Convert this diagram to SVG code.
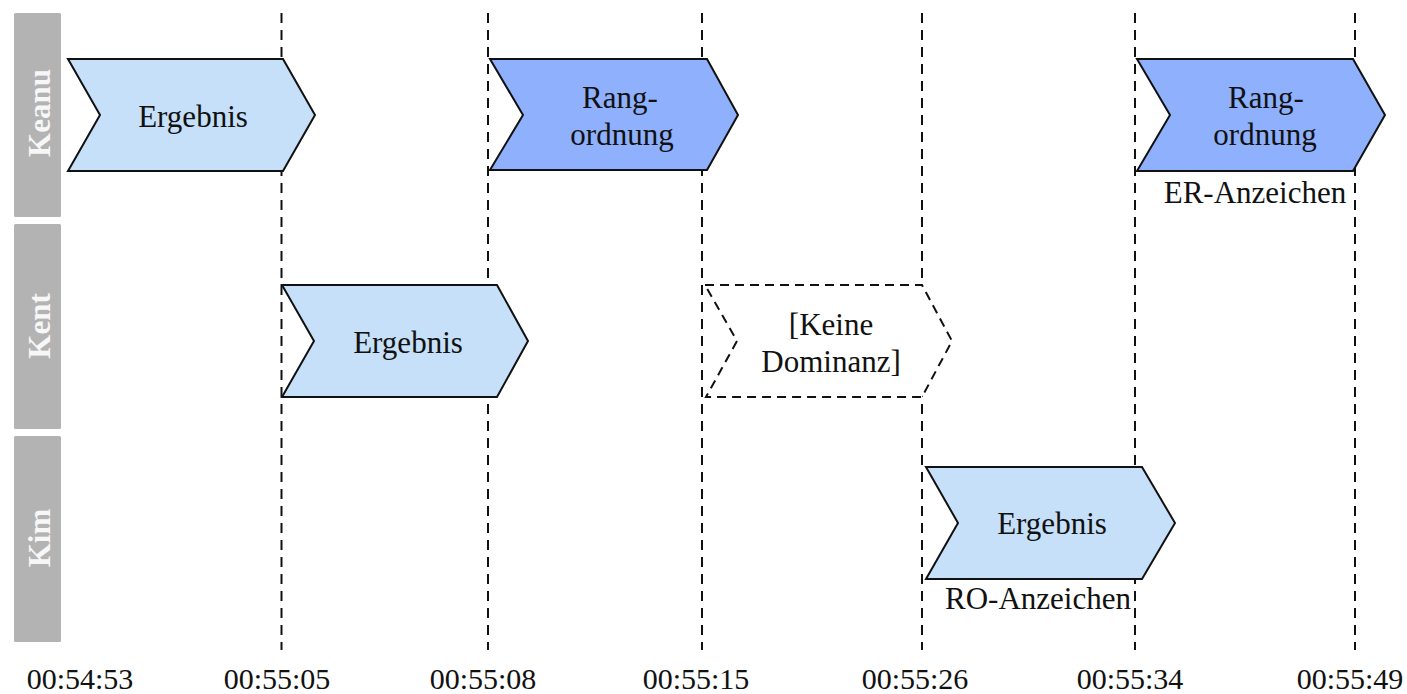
<svg xmlns="http://www.w3.org/2000/svg" width="1407" height="694" viewBox="0 0 1407 694">
  <style>
    .lane { fill: #b3b3b3; }
    .lane-label { font-family: "Liberation Serif", "Times New Roman", serif; font-weight: bold; font-size: 31px; fill: #f7f7f7; text-anchor: middle; }
    .tick { stroke: #111; stroke-width: 2; stroke-dasharray: 10 7; fill: none; }
    .step { stroke: #111; stroke-width: 2; stroke-linejoin: miter; }
    .light { fill: #c6e0fa; }
    .dark { fill: #8fb0fd; }
    .none { fill: #ffffff; stroke-dasharray: 9 6; }
    .lbl { font-family: "Liberation Serif", "Times New Roman", serif; font-size: 31px; fill: #111; text-anchor: middle; }
    .time { font-family: "Liberation Serif", "Times New Roman", serif; font-size: 30px; fill: #111; text-anchor: middle; }
  </style>

  <rect width="1407" height="694" fill="#ffffff"/>

  <!-- swimlane headers -->
  <g id="lane-keanu">
    <rect class="lane" x="14" y="13" width="47" height="204" rx="1.5"/>
    <text class="lane-label" transform="translate(50,113) rotate(-90)">Keanu</text>
  </g>
  <g id="lane-kent">
    <rect class="lane" x="14" y="224" width="47" height="205" rx="1.5"/>
    <text class="lane-label" transform="translate(50,326) rotate(-90)">Kent</text>
  </g>
  <g id="lane-kim">
    <rect class="lane" x="14" y="436" width="47" height="206" rx="1.5"/>
    <text class="lane-label" transform="translate(50,538) rotate(-90)">Kim</text>
  </g>

  <!-- time markers -->
  <g id="connectors">
    <line class="tick" x1="281.5" y1="13" x2="281.5" y2="650"/>
    <line class="tick" x1="488" y1="13" x2="488" y2="650"/>
    <line class="tick" x1="702" y1="13" x2="702" y2="650"/>
    <line class="tick" x1="922" y1="13" x2="922" y2="650"/>
    <line class="tick" x1="1135" y1="13" x2="1135" y2="650"/>
    <line class="tick" x1="1355" y1="13" x2="1355" y2="650"/>
  </g>

  <!-- Keanu -->
  <g id="keanu-ergebnis">
    <polygon class="step light" points="68,59 283,59 315,115 283,171 68,171 100,115"/>
    <text class="lbl" x="193" y="127">Ergebnis</text>
  </g>
  <g id="keanu-rangordnung-1">
    <polygon class="step dark" points="490,59 707,59 738,115 707,170 490,170 523,115"/>
    <text class="lbl" x="620" y="108">Rang-</text>
    <text class="lbl" x="622" y="145">ordnung</text>
  </g>
  <g id="keanu-rangordnung-2">
    <polygon class="step dark" points="1137,59 1353,59 1385,115 1353,171 1137,171 1170,115"/>
    <text class="lbl" x="1266" y="108">Rang-</text>
    <text class="lbl" x="1265" y="145">ordnung</text>
    <text class="lbl" x="1255" y="203">ER-Anzeichen</text>
  </g>

  <!-- Kent -->
  <g id="kent-ergebnis">
    <polygon class="step light" points="282,285 497,285 528,341 497,397 282,397 314,341"/>
    <text class="lbl" x="408" y="353">Ergebnis</text>
  </g>
  <g id="kent-keine-dominanz">
    <polygon class="step none" points="705,285 922,285 952,341 922,397 706,397 737,341"/>
    <text class="lbl" x="831" y="335">[Keine</text>
    <text class="lbl" x="831" y="372">Dominanz]</text>
  </g>

  <!-- Kim -->
  <g id="kim-ergebnis">
    <polygon class="step light" points="926,467 1142,467 1175,523 1142,579 926,579 958,523"/>
    <text class="lbl" x="1052" y="534">Ergebnis</text>
    <text class="lbl" x="1038" y="609">RO-Anzeichen</text>
  </g>

  <!-- time axis -->
  <g id="time-axis">
    <text class="time" x="80" y="689">00:54:53</text>
    <text class="time" x="277" y="689">00:55:05</text>
    <text class="time" x="483" y="689">00:55:08</text>
    <text class="time" x="696" y="689">00:55:15</text>
    <text class="time" x="915" y="689">00:55:26</text>
    <text class="time" x="1130" y="689">00:55:34</text>
    <text class="time" x="1350" y="689">00:55:49</text>
  </g>
</svg>
